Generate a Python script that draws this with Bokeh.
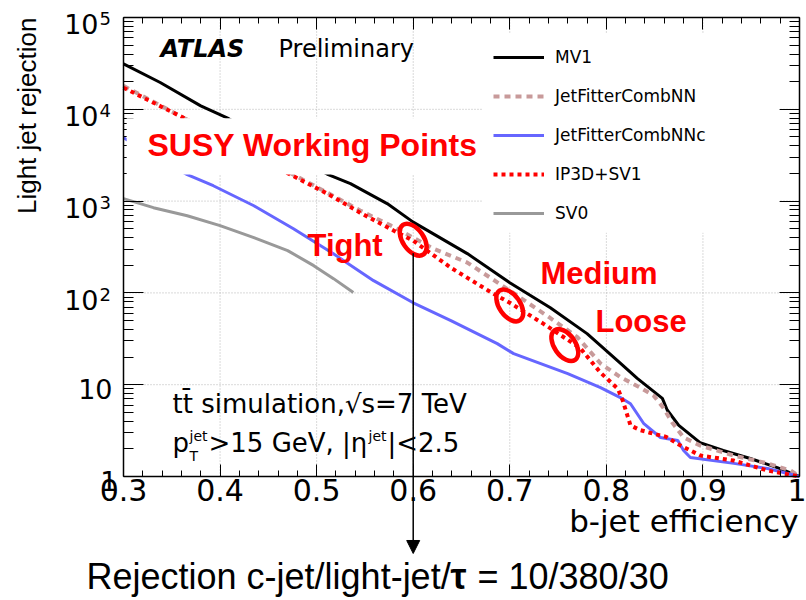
import math
from bokeh.plotting import figure
from bokeh.models import (Range1d, FixedTicker, LinearAxis, LogAxis, CustomJSTickFormatter,
                          Label, BoxAnnotation, Arrow, NormalHead, Legend, LegendItem,
                          ColumnDataSource)
from bokeh.embed import file_html
from bokeh.resources import INLINE

# ---- light-jet rejection vs b-jet efficiency (ttbar simulation) ----
eff_mv1 = [0.30, 0.338, 0.38, 0.409, 0.512, 0.535, 0.573, 0.600, 0.656, 0.700, 0.742,
           0.780, 0.815, 0.832, 0.858, 0.863, 0.875, 0.897, 0.921, 0.949, 0.977, 1.0]
rej_mv1 = [31300, 19600, 10900, 7900, 1940, 1550, 940, 590, 268, 129, 69,
           36, 17, 11.7, 7.1, 5.3, 3.6, 2.34, 1.92, 1.57, 1.25, 1.0]

eff_jfnn = [0.30, 0.362, 0.476, 0.511, 0.545, 0.577, 0.600, 0.621, 0.656, 0.700, 0.740,
            0.770, 0.794, 0.815, 0.835, 0.849, 0.859, 0.868, 0.880, 0.8975, 0.932, 0.967,
            0.991, 1.0]
rej_jfnn = [18000, 8100, 1940, 1235, 790, 540, 400, 303, 214, 106, 55,
            33, 17, 12, 9.3, 7.6, 5.6, 3.9, 2.66, 2.17, 1.69, 1.39,
            1.16, 1.0]

eff_jfnnc = [0.30, 0.366, 0.393, 0.435, 0.476, 0.517, 0.559, 0.600, 0.639, 0.687, 0.704,
             0.760, 0.794, 0.815, 0.825, 0.8385, 0.856, 0.874, 0.880, 0.887, 0.932, 0.967, 1.0]
rej_jfnnc = [4900, 1940, 1470, 890, 500, 268, 136, 78, 50, 28, 21.8,
             13.2, 9.3, 7.2, 6.2, 3.8, 2.66, 2.47, 1.92, 1.61, 1.39, 1.22, 1.0]

eff_ip3d = [0.30, 0.331, 0.364, 0.473, 0.511, 0.545, 0.580, 0.600, 0.639, 0.683, 0.700,
            0.735, 0.773, 0.794, 0.812, 0.817, 0.825, 0.835, 0.845, 0.862, 0.877, 0.8975,
            0.932, 0.967, 1.0]
rej_ip3d = [17200, 11800, 7900, 1940, 1205, 748, 476, 370, 188, 98, 78,
            46, 25, 13.5, 9, 6.7, 3.6, 3.2, 3.0, 2.7, 2.17, 1.69,
            1.49, 1.16, 1.0]

eff_sv0 = [0.30, 0.331, 0.366, 0.400, 0.435, 0.470, 0.497, 0.5175, 0.538]
rej_sv0 = [1063, 848, 693, 540, 400, 289, 198, 143, 101]

# SUSY working points (Tight / Medium / Loose)
wp_names = ["Tight", "Medium", "Loose"]
wp_eff = [0.60, 0.70, 0.757]
wp_rej = [380, 73, 27]

x_major = [0.3, 0.4, 0.5, 0.6, 0.7, 0.8, 0.9, 1.0]
y_major = [1, 10, 100, 1000, 10000, 100000]
y_base_labels = ["1", "10", "10", "10", "10", "10"]
y_sup_labels = ["", "", "2", "3", "4", "5"]

x_minor = [round(0.3 + 0.02 * i, 2) for i in range(36) if i % 5]
y_minor = [k * 10 ** n for n in range(5) for k in range(2, 10)]

# page and plot-box geometry (pixels)
W, H = 806, 600
BOX_L, BOX_R, BOX_T, BOX_B = 123, 799, 17, 476
X0, X1, Y0, Y1 = 0.3, 1.0, 1.0, 1e5
BL = 0.38  # baseline correction for labels, in em

# the drawing area spans the whole page; the plot box is framed by fixed axes
xpp = (X1 - X0) / (BOX_R - BOX_L)
dpp = math.log10(Y1 / Y0) / (BOX_B - BOX_T)
x_range = Range1d(X0 - BOX_L * xpp, X1 + (W - BOX_R) * xpp)
y_range = Range1d(Y0 * 10 ** (-(H - BOX_B) * dpp), Y1 * 10 ** (BOX_T * dpp))

p = figure(width=W, height=H, title=None, x_range=x_range, y_range=y_range,
           y_axis_type="log", output_backend="svg", toolbar_location=None,
           min_border_left=0, min_border_right=0, min_border_top=0, min_border_bottom=0)
p.background_fill_color = "white"
p.border_fill_color = "white"
p.outline_line_color = None
p.xgrid.visible = False
p.ygrid.visible = False

blank = CustomJSTickFormatter(code="return '';")


def style_axis(ax, ticks, minor, tin, tmin, fixed, bounds, labels=False):
    ax.ticker = FixedTicker(ticks=ticks, minor_ticks=minor)
    ax.fixed_location = fixed
    ax.bounds = bounds
    ax.major_tick_in = tin
    ax.major_tick_out = 0
    ax.minor_tick_in = tmin
    ax.minor_tick_out = 0
    ax.major_tick_line_color = "black"
    ax.minor_tick_line_color = "black"
    ax.axis_line_color = "black"
    ax.axis_line_width = 1.5
    if not labels:
        ax.formatter = blank
        ax.major_label_text_font_size = "1px"
        ax.major_label_standoff = 0


xb = p.xaxis[0]
style_axis(xb, x_major, x_minor, 12, 6, Y0, (X0, X1), labels=True)
xb.formatter = CustomJSTickFormatter(code="return tick > 0.999 ? '1' : tick.toFixed(1);")
xb.major_label_text_font = "DejaVu Sans"
xb.major_label_text_font_size = "30px"
xb.major_label_text_color = "black"
xb.major_label_standoff = 2

yl = p.yaxis[0]
style_axis(yl, y_major, y_minor, 20, 10, X0, (Y0, Y1))

top_ax = LinearAxis()
style_axis(top_ax, x_major, x_minor, 12, 6, Y1, (X0, X1))
p.add_layout(top_ax, "above")
right_ax = LogAxis()
style_axis(right_ax, y_major, y_minor, 20, 10, X1, (Y0, Y1))
p.add_layout(right_ax, "right")

# dotted grid inside the plot box
gx = x_major[1:-1]
gy = y_major[1:-1]
p.segment(x0=gx, y0=[Y0] * len(gx), x1=gx, y1=[Y1] * len(gx),
          line_color="#b4b4b4", line_dash="1 2", line_width=1, level="underlay")
p.segment(x0=[X0] * len(gy), y0=gy, x1=[X1] * len(gy), y1=gy,
          line_color="#b4b4b4", line_dash="1 2", line_width=1, level="underlay")

# curves
r_mv1 = p.line(eff_mv1, rej_mv1, line_color="black", line_width=3)
r_jfnn = p.line(eff_jfnn, rej_jfnn, line_color="#c89a9a", line_width=4, line_dash="6 5")
r_jfnnc = p.line(eff_jfnnc, rej_jfnnc, line_color="#6666ff", line_width=3)
r_ip3d = p.line(eff_ip3d, rej_ip3d, line_color="#ff0000", line_width=4, line_dash="4 4")
r_sv0 = p.line(eff_sv0, rej_sv0, line_color="#999999", line_width=3)

# working-point ellipses
wp_src = ColumnDataSource(dict(x=wp_eff, y=wp_rej))
p.ellipse(x="x", y="y", width=36, height=21, angle=-0.96, source=wp_src,
          width_units="screen", height_units="screen",
          fill_alpha=0, line_color="#ff0000", line_width=4.5)

# white panels: banner and legend area
p.add_layout(BoxAnnotation(left=0.3033, right=0.6714, bottom=1950, top=8000,
                           fill_color="white", fill_alpha=1, line_alpha=0))
p.add_layout(BoxAnnotation(left=0.6714, right=0.979, bottom=453, top=66500,
                           fill_color="white", fill_alpha=1, line_alpha=0))

legend = Legend(items=[LegendItem(label="MV1", renderers=[r_mv1]),
                       LegendItem(label="JetFitterCombNN", renderers=[r_jfnn]),
                       LegendItem(label="JetFitterCombNNc", renderers=[r_jfnnc]),
                       LegendItem(label="IP3D+SV1", renderers=[r_ip3d]),
                       LegendItem(label="SV0", renderers=[r_sv0])],
                location=(483, 367), margin=0, padding=10, spacing=19,
                glyph_width=51, glyph_height=20, label_height=20, label_standoff=11,
                label_text_font="DejaVu Sans", label_text_font_size="17px",
                label_text_color="black",
                background_fill_alpha=0, border_line_alpha=0)
p.add_layout(legend, "center")


def add_text(txt, px, py, size, font="DejaVu Sans", style="normal", color="black",
             align="left", angle=0.0, y=Y0, dy=None):
    """Place text with its baseline at page pixel (px, py); with dy, py is taken
    relative to the data value y (dy pixels below it)."""
    s = BL * size
    px_c = px - math.sin(angle) * s
    yoff = (BOX_B - py) if dy is None else -dy
    yoff += math.cos(angle) * s
    p.add_layout(Label(x=X0, y=y, x_offset=px_c - BOX_L, y_offset=yoff, text=txt,
                       text_font=font, text_font_size=f"{size}px", text_font_style=style,
                       text_color=color, text_align=align, text_baseline="alphabetic",
                       angle=angle))


# y tick labels (powers of ten with superscripts)
for v, base, sup in zip(y_major, y_base_labels, y_sup_labels):
    if sup:
        add_text(base, 98, None, 27, align="right", y=v, dy=17)
        add_text(sup, 99, None, 18, y=v, dy=8)
    else:
        right = 112 if base == "10" else 117
        add_text(base, right, None, 27, align="right", y=v, dy=15)

# axis titles
add_text("Light jet rejection", 36, 17, 26, font="Liberation Sans", align="right",
         angle=math.pi / 2)
add_text("b-jet efficiency", 798, 532, 31, align="right")

# experiment label and selection
add_text("ATLAS", 160, 58, 24, style="bold italic")
add_text("Preliminary", 278, 58, 24)
add_text("tt\u0304 simulation,\u221as=7 TeV", 172, 413, 26)
add_text("p", 172, 452, 26)
add_text("jet", 189, 441, 14)
add_text("T", 189, 461, 14)
add_text(">15 GeV, |\u03b7", 208, 452, 26)
add_text("jet", 368, 441, 14)
add_text("|<2.5", 387, 452, 26)

# working-point annotations
add_text("SUSY Working Points", 147, 157, 32, font="Liberation Sans", style="bold",
         color="#ff0000")
wp_text_pos = [(307, 257), (540, 285), (595, 333)]
for name, (px, py) in zip(wp_names, wp_text_pos):
    add_text(name, px, py, 31, font="Liberation Sans", style="bold", color="#ff0000")

# arrow from the Tight point down to the rejection summary
p.add_layout(Arrow(end=NormalHead(size=13, fill_color="black", line_color="black"),
                   x_start=wp_eff[0], y_start=270, x_end=wp_eff[0], y_end=0.145,
                   line_color="black", line_width=1.5))

add_text("Rejection c-jet/light-jet/", 86, 590, 36, font="Liberation Sans")
add_text("\u03c4", 450, 590, 36, font="Liberation Sans", style="bold")
add_text("= 10/380/30", 477, 590, 36, font="Liberation Sans")

open("out.html", "w").write(file_html(p, INLINE))
